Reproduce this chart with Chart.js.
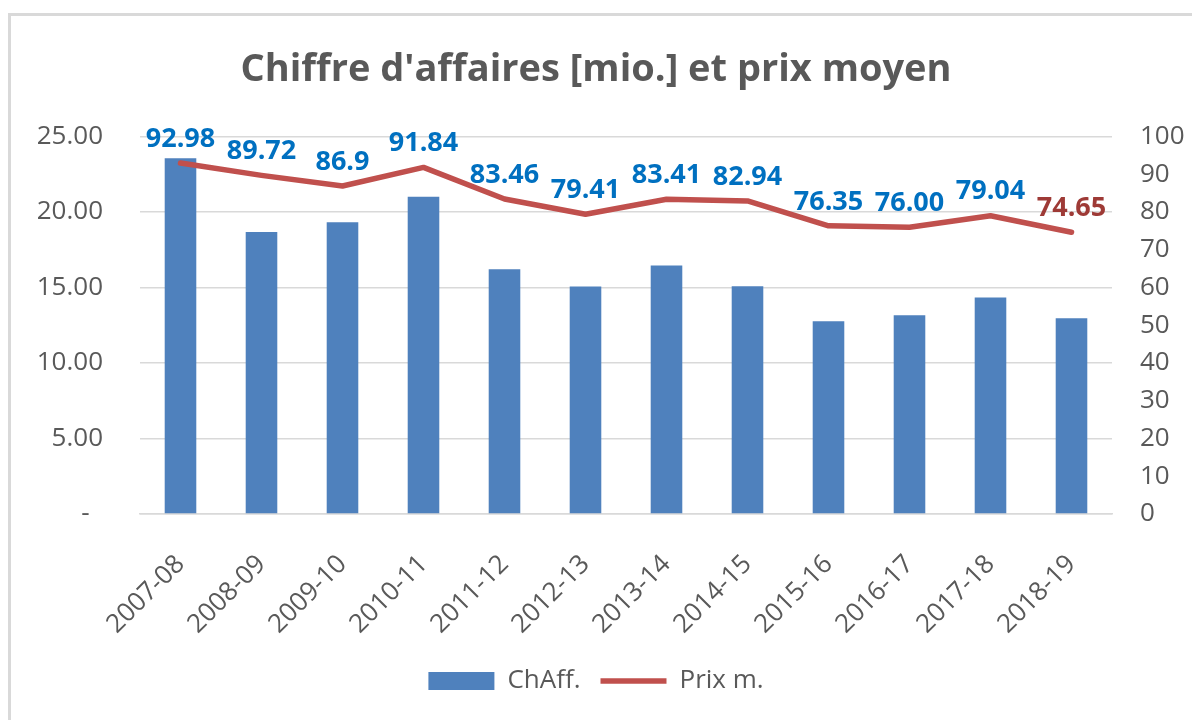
<!DOCTYPE html>
<html lang="fr">
<head>
    <meta charset="UTF-8">
    <title>Chiffre d'affaires et prix moyen</title>
    <script src="https://cdn.jsdelivr.net/npm/chart.js"></script>
    <style>
        body {
            margin: 0;
            background: #fff;
            font-family: "Open Sans", sans-serif;
        }
        .frame {
            position: absolute;
            left: 8px;
            top: 13px;
            width: 1300px;
            height: 800px;
            border-left: 3px solid #d9d9d9;
            border-top: 3px solid #d9d9d9;
        }
        #chart {
            position: absolute;
            left: 0;
            top: 0;
        }
    </style>
</head>
<body>
    <div class="frame"></div>
    <canvas id="chart" width="1192" height="720"></canvas>

    <script>
        // données
        const seasons = ['2007-08', '2008-09', '2009-10', '2010-11', '2011-12', '2012-13',
                         '2013-14', '2014-15', '2015-16', '2016-17', '2017-18', '2018-19'];
        const chiffreAffaires = [23.56, 18.68, 19.32, 21.01, 16.22, 15.07, 16.46, 15.09, 12.77, 13.16, 14.34, 12.97];
        const prixMoyen = [92.98, 89.72, 86.9, 91.84, 83.46, 79.41, 83.41, 82.94, 76.35, 76.00, 79.04, 74.65];
        const prixLabels = ['92.98', '89.72', '86.9', '91.84', '83.46', '79.41', '83.41', '82.94', '76.35', '76.00', '79.04', '74.65'];

        const gris = '#595959';
        const grille = '#d9d9d9';
        const tickFont = { family: 'Open Sans', size: 26 };

        // étiquettes de valeurs au-dessus de la courbe
        const prixLabelPlugin = {
            id: 'prixLabels',
            afterDatasetsDraw(chart) {
                const meta = chart.getDatasetMeta(1);
                const ctx = chart.ctx;
                ctx.save();
                ctx.font = 'bold 27px "Open Sans"';
                ctx.textAlign = 'center';
                ctx.textBaseline = 'middle';
                meta.data.forEach((pt, i) => {
                    ctx.fillStyle = i === meta.data.length - 1 ? '#9e3a36' : '#0070c0';
                    ctx.fillText(prixLabels[i], pt.x, pt.y - 24);
                });
                ctx.restore();
            }
        };

        new Chart(document.getElementById('chart'), {
            data: {
                labels: seasons,
                datasets: [
                    {
                        type: 'bar',
                        label: 'ChAff.',
                        data: chiffreAffaires,
                        yAxisID: 'y',
                        backgroundColor: '#4f81bd',
                        borderWidth: 0,
                        barPercentage: 0.39,
                        categoryPercentage: 1,
                        pointStyle: 'rect',
                        order: 1
                    },
                    {
                        type: 'line',
                        label: 'Prix m.',
                        data: prixMoyen,
                        yAxisID: 'y1',
                        borderColor: '#c0504d',
                        backgroundColor: '#c0504d',
                        borderWidth: 5.5,
                        borderCapStyle: 'round',
                        borderJoinStyle: 'round',
                        pointRadius: 0,
                        pointStyle: 'line',
                        tension: 0,
                        order: 0
                    }
                ]
            },
            options: {
                responsive: false,
                animation: false,
                layout: { padding: { top: 0, left: 0, right: 0, bottom: 16 } },
                plugins: {
                    title: {
                        display: true,
                        text: "Chiffre d'affaires [mio.] et prix moyen",
                        color: gris,
                        font: { family: 'Open Sans', size: 38, weight: 'bold' },
                        padding: { top: 47, bottom: 44 }
                    },
                    legend: {
                        position: 'bottom',
                        labels: {
                            usePointStyle: true,
                            pointStyleWidth: 66,
                            boxHeight: 18,
                            padding: 20,
                            color: gris,
                            font: { family: 'Open Sans', size: 26 },
                            sort: (a, b) => a.datasetIndex - b.datasetIndex
                        }
                    },
                    tooltip: { enabled: false }
                },
                scales: {
                    x: {
                        grid: { display: false },
                        border: { display: true, color: grille, width: 1.5 },
                        ticks: {
                            color: gris,
                            font: tickFont,
                            minRotation: 45,
                            maxRotation: 45,
                            autoSkip: false,
                            padding: 27
                        },
                        afterFit: s => { s.height = 134; }
                    },
                    y: {
                        position: 'left',
                        min: 0,
                        max: 25,
                        grid: { color: grille, lineWidth: 1.5, drawTicks: false },
                        border: { display: false },
                        ticks: {
                            stepSize: 5,
                            color: gris,
                            font: tickFont,
                            padding: 37,
                            callback: v => v === 0 ? '-  ' : v.toFixed(2)
                        },
                        afterFit: s => { s.width = 140; }
                    },
                    y1: {
                        position: 'right',
                        min: 0,
                        max: 100,
                        grid: { display: false, drawTicks: false },
                        border: { display: false },
                        ticks: {
                            stepSize: 10,
                            color: gris,
                            font: tickFont,
                            padding: 28
                        },
                        afterFit: s => { s.width = 80; }
                    }
                }
            },
            plugins: [prixLabelPlugin]
        });
    </script>
</body>
</html>
